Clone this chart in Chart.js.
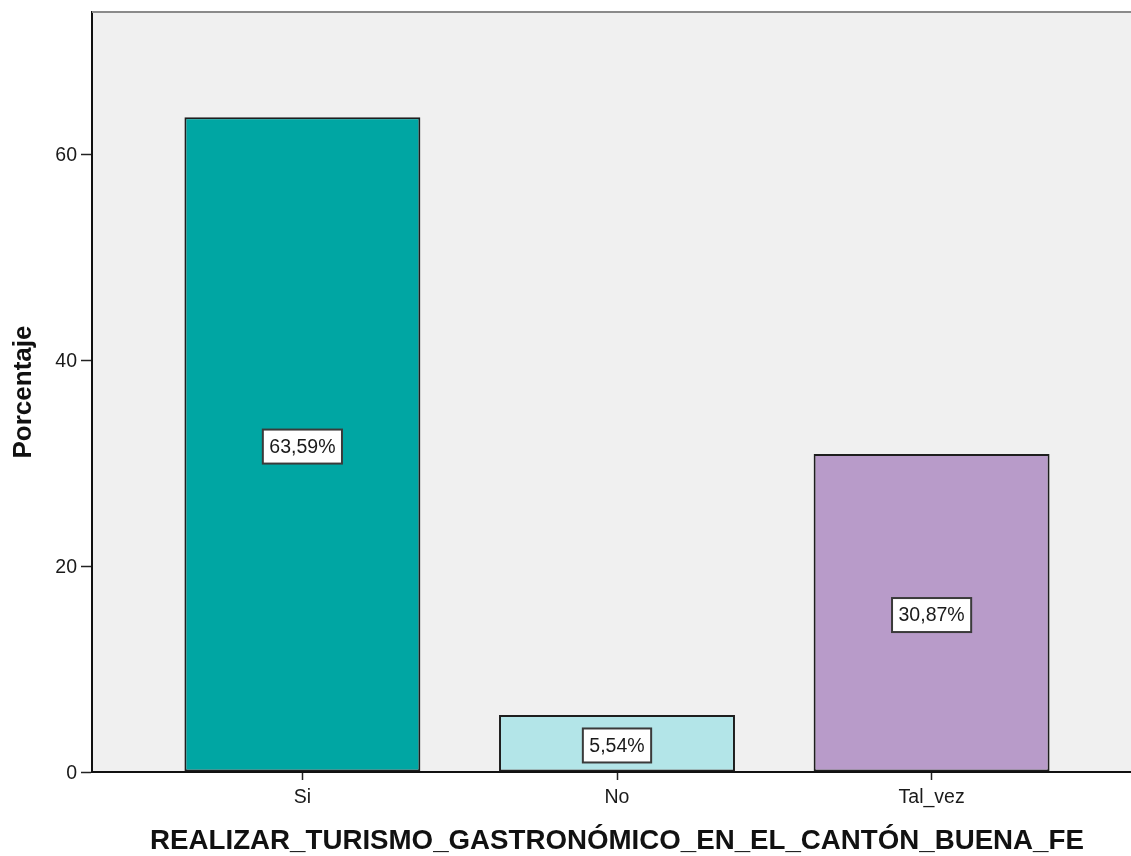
<!DOCTYPE html>
<html>
<head>
<meta charset="utf-8">
<script src="https://cdn.jsdelivr.net/npm/chart.js@4/dist/chart.umd.min.js"></script>
<style>
  html, body { margin: 0; padding: 0; background: #ffffff; overflow: hidden; }
  #wrap { width: 1131px; height: 856px; overflow: hidden; }
</style>
</head>
<body>
<div id="wrap"><canvas id="c" width="1142" height="856"></canvas></div>
<script>
// ---- Data ----
const categories = ['Si', 'No', 'Tal_vez'];
const percentages = [63.59, 5.54, 30.87];
const yTickValues = [0, 20, 40, 60];
const barColors = ['#00A6A3', '#B3E5E8', '#B89BC9'];
const xTitle = 'REALIZAR_TURISMO_GASTRONÓMICO_EN_EL_CANTÓN_BUENA_FE';
const yTitle = 'Porcentaje';

const FONT = 'Arial, "Liberation Sans", sans-serif';

const plotBg = {
  id: 'plotBg',
  beforeDraw(chart) {
    const { ctx, chartArea: a } = chart;
    ctx.save();
    ctx.fillStyle = '#F0F0F0';
    ctx.fillRect(a.left, a.top, a.right - a.left, a.bottom - a.top);
    ctx.restore();
  },
  afterDraw(chart) {
    const { ctx, chartArea: a } = chart;
    ctx.save();
    ctx.strokeStyle = '#8a8a8a';
    ctx.lineWidth = 2;
    ctx.beginPath();
    ctx.moveTo(a.left, a.top);
    ctx.lineTo(a.right, a.top);
    ctx.stroke();
    ctx.restore();
  }
};

const valueLabels = {
  id: 'valueLabels',
  afterDatasetsDraw(chart) {
    const { ctx } = chart;
    const yScale = chart.scales.y;
    const meta = chart.getDatasetMeta(0);
    ctx.save();
    ctx.font = '19.5px ' + FONT;
    ctx.textAlign = 'center';
    ctx.textBaseline = 'middle';
    meta.data.forEach((bar, i) => {
      const v = percentages[i];
      const text = v.toFixed(2).replace('.', ',') + '%';
      const cx = bar.x;
      const cy = yScale.getPixelForValue(v / 2) + 2;
      const w = ctx.measureText(text).width + 13;
      const h = 34;
      ctx.fillStyle = '#ffffff';
      ctx.fillRect(cx - w / 2, cy - h / 2, w, h);
      ctx.strokeStyle = '#3a3a3a';
      ctx.lineWidth = 2;
      ctx.strokeRect(cx - w / 2, cy - h / 2, w, h);
      ctx.fillStyle = '#1a1a1a';
      ctx.fillText(text, cx, cy + 1);
    });
    ctx.restore();
  }
};

new Chart(document.getElementById('c'), {
  type: 'bar',
  data: {
    datasets: [{
      data: percentages.map((v, i) => ({ x: i + 1, y: v })),
      backgroundColor: barColors,
      borderColor: '#1e1e1e',
      borderWidth: 2,
      borderSkipped: false,
      categoryPercentage: 1,
      barPercentage: 0.75
    }]
  },
  options: {
    responsive: false,
    animation: false,
    events: [],
    layout: { padding: { top: 12, right: 0, bottom: 0, left: 0 } },
    plugins: {
      legend: { display: false },
      tooltip: { enabled: false }
    },
    scales: {
      x: {
        type: 'linear',
        min: 0.3312,
        max: 3.6688,
        offset: false,
        afterFit(scale) { scale.height = 84; scale.paddingLeft = 0; scale.paddingRight = 0; },
        afterBuildTicks(scale) {
          scale.ticks = categories.map((c, i) => ({ value: i + 1 }));
        },
        ticks: {
          autoSkip: false,
          maxRotation: 0,
          padding: 6,
          color: '#1a1a1a',
          font: { family: FONT, size: 19.5 },
          callback: (v) => categories[Math.round(v) - 1] ?? ''
        },
        grid: {
          offset: false,
          drawOnChartArea: false,
          drawTicks: true,
          tickLength: 8,
          tickWidth: 1.5,
          tickColor: '#222222'
        },
        border: { display: true, color: '#111111', width: 2 },
        title: {
          display: true,
          text: xTitle,
          color: '#111111',
          font: { family: FONT, size: 27.7, weight: 'bold', lineHeight: 1 },
          padding: { top: 0, bottom: 1 }
        }
      },
      y: {
        type: 'linear',
        min: 0,
        max: 73.8,
        afterFit(scale) { scale.width = 92; scale.paddingTop = 0; scale.paddingBottom = 0; },
        afterBuildTicks(scale) {
          scale.ticks = yTickValues.map(v => ({ value: v }));
        },
        ticks: {
          padding: 4,
          labelOffset: 2,
          color: '#1a1a1a',
          font: { family: FONT, size: 19.5 }
        },
        grid: {
          drawOnChartArea: false,
          drawTicks: true,
          tickLength: 11,
          tickWidth: 1.5,
          tickColor: '#222222'
        },
        border: { display: true, color: '#111111', width: 2 },
        title: {
          display: true,
          text: yTitle,
          color: '#111111',
          font: { family: FONT, size: 26, weight: 'bold', lineHeight: 1 },
          padding: { top: 11, bottom: 0 }
        }
      }
    }
  },
  plugins: [plotBg, valueLabels]
});
</script>
</body>
</html>
